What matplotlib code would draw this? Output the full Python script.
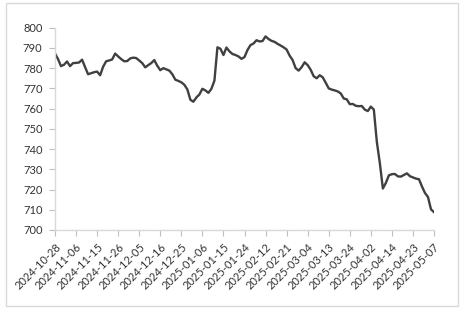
import matplotlib.pyplot as plt
from matplotlib.patches import Rectangle

# 每个交易日的数值
values = [
    787.3, 784.5, 781.0, 781.7, 783.3, 781.0, 782.5, 782.6, 782.8, 784.2,
    780.5, 777.0, 777.5, 778.0, 778.3, 776.5, 780.7, 783.4, 783.8, 784.3,
    787.2, 785.8, 784.5, 783.4, 783.5, 784.8, 785.2, 785.0, 783.8, 782.5,
    780.4, 781.5, 782.5, 784.0, 781.2, 779.0, 780.0, 779.4, 778.8, 777.0,
    774.3, 773.7, 773.0, 771.8, 769.5, 764.4, 763.4, 765.5, 767.0, 769.8,
    769.0, 767.8, 769.8, 773.8, 790.3, 789.6, 786.5, 790.2, 788.3, 787.0,
    786.5, 785.8, 784.6, 785.5, 789.0, 791.4, 792.2, 793.8, 793.2, 793.4,
    795.7, 794.4, 793.5, 793.0, 792.0, 791.2, 790.3, 789.2, 786.2, 784.0,
    780.0, 778.8, 780.5, 782.9, 781.5, 779.2, 776.0, 775.0, 776.5, 775.5,
    772.8, 770.0, 769.4, 769.0, 768.5, 767.5, 765.0, 764.6, 762.2, 762.3,
    761.4, 761.2, 761.3, 759.5, 758.8, 761.0, 759.5, 743.5, 733.0, 720.5,
    723.3, 727.0, 727.6, 727.7, 726.5, 726.4, 727.2, 728.0, 726.6, 726.0,
    725.4, 725.1, 721.5, 718.3, 716.3, 710.2, 708.8,
]
# 每7个交易日一个刻度
tick_labels = [
    '2024-10-28', '2024-11-06', '2024-11-15', '2024-11-26', '2024-12-05',
    '2024-12-16', '2024-12-25', '2025-01-06', '2025-01-15', '2025-01-24',
    '2025-02-12', '2025-02-21', '2025-03-04', '2025-03-13', '2025-03-24',
    '2025-04-02', '2025-04-14', '2025-04-23', '2025-05-07',
]
step = 7

plt.rcParams['font.family'] = ['Lato', 'DejaVu Sans']
fig = plt.figure(figsize=(4.68, 3.16), dpi=100)
fig.patches.append(Rectangle((6 / 468, 1 - 306 / 316), 452 / 468, 303 / 316,
                             transform=fig.transFigure, fill=False,
                             edgecolor='#d9d9d9', linewidth=1.0))
ax = fig.add_axes([55 / 468, 1 - 230 / 316, 379 / 468, 202.3 / 316])

ax.plot(range(len(values)), values, color='#404040', linewidth=1.7)

ax.set_xlim(0, len(values) - 1)
ax.set_ylim(700, 800)
ax.set_yticks(range(700, 801, 10))
ax.set_xticks(range(0, len(values), step))
ax.set_xticklabels(tick_labels, rotation=45, ha='right', va='top',
                   rotation_mode='anchor')

for s in ['top', 'right']:
    ax.spines[s].set_visible(False)
for s in ['left', 'bottom']:
    ax.spines[s].set_color('#d9d9d9')
    ax.spines[s].set_linewidth(1.0)
ax.tick_params(axis='both', colors='#bfbfbf', labelcolor='#333333',
               labelsize=8, length=4, width=0.8)
ax.tick_params(axis='y', pad=5)
ax.tick_params(axis='x', pad=4)

fig.savefig('out.png', dpi=100)
